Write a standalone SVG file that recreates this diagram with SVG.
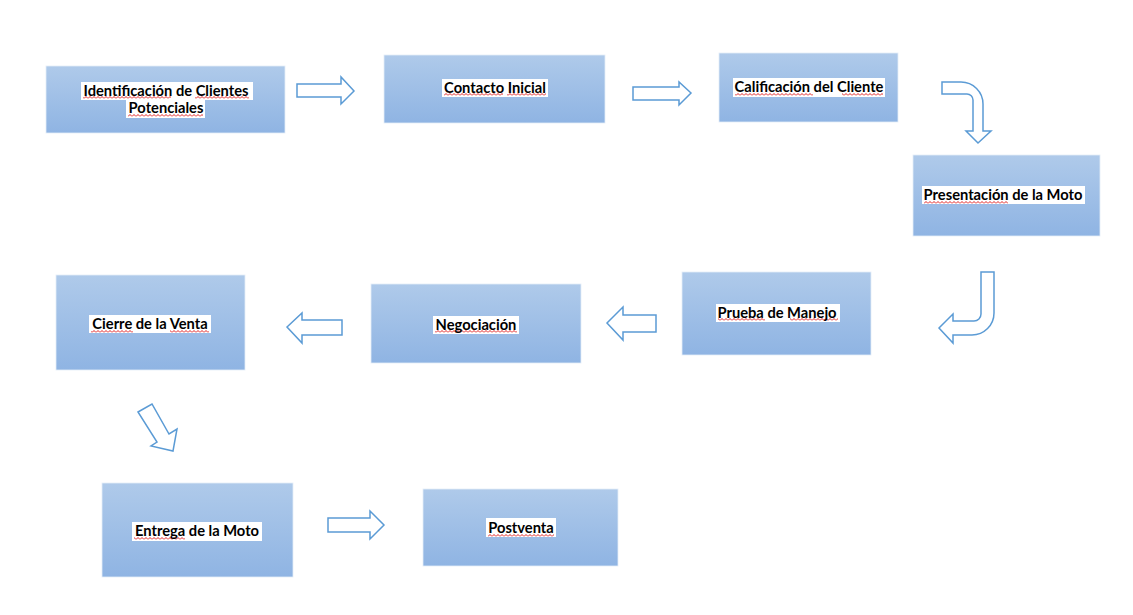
<svg xmlns="http://www.w3.org/2000/svg" width="1133" height="615" viewBox="0 0 1133 615">
  <defs>
    <linearGradient id="boxFill" x1="0" y1="0" x2="0" y2="1">
      <stop offset="0" stop-color="#afcaea"/>
      <stop offset="1" stop-color="#8fb4e3"/>
    </linearGradient>
    <!-- red wavy spell-check underline -->
    <pattern id="wave" width="4" height="3" patternUnits="userSpaceOnUse">
      <path d="M0,2.5 L2,0.5 L4,2.5" fill="none" stroke="#e02020" stroke-width="1"/>
    </pattern>
  </defs>
  <style>
    .box { fill: url(#boxFill); stroke: #e4edf8; stroke-width: 0.8; }
    .hl { fill: #ffffff; }
    .sq { fill: url(#wave); }
    .lbl { font-family: Lato, "Open Sans", "Liberation Sans", sans-serif; font-weight: bold; font-size: 14.7px; fill: #000000; text-anchor: middle; }
    .arrow { fill: #ffffff; stroke: #5b9bd5; stroke-width: 1.5; stroke-linejoin: miter; }
  </style>
  <rect width="1133" height="615" fill="#ffffff"/>

  <g id="n1">
    <rect class="box" x="46" y="66" width="239" height="67"/>
    <rect class="hl" x="81" y="82" width="172" height="18"/>
    <rect class="hl" x="126" y="100" width="79" height="18"/>
    <rect class="sq" x="83" y="96" width="88" height="3"/>
    <rect class="sq" x="195" y="96" width="54" height="3"/>
    <rect class="sq" x="128" y="114" width="75" height="3"/>
    <text class="lbl" x="166" y="96">Identificación de Clientes</text>
    <text class="lbl" x="166" y="113">Potenciales</text>
  </g>

  <g id="n2">
    <rect class="box" x="384" y="55" width="221" height="68"/>
    <rect class="hl" x="442" y="79" width="106" height="18"/>
    <rect class="sq" x="444" y="93" width="59" height="3"/>
    <rect class="sq" x="507" y="93" width="39" height="3"/>
    <text class="lbl" x="495" y="93">Contacto Inicial</text>
  </g>

  <g id="n3">
    <rect class="box" x="719" y="53" width="179" height="69"/>
    <rect class="hl" x="733" y="78" width="152" height="19"/>
    <rect class="sq" x="735" y="93" width="78" height="3"/>
    <rect class="sq" x="842" y="93" width="41" height="3"/>
    <text class="lbl" x="809" y="92">Calificación del Cliente</text>
  </g>

  <g id="n4">
    <rect class="box" x="913" y="155" width="187" height="81"/>
    <rect class="hl" x="922" y="186" width="163" height="18"/>
    <rect class="sq" x="924" y="201" width="84" height="3"/>
    <text class="lbl" x="1003" y="200">Presentación de la Moto</text>
  </g>

  <g id="n5">
    <rect class="box" x="682" y="272" width="189" height="83"/>
    <rect class="hl" x="716" y="304" width="124" height="18"/>
    <rect class="sq" x="718" y="318" width="47" height="3"/>
    <rect class="sq" x="790" y="318" width="48" height="3"/>
    <text class="lbl" x="777" y="318">Prueba de Manejo</text>
  </g>

  <g id="n6">
    <rect class="box" x="371" y="284" width="210" height="79"/>
    <rect class="hl" x="433" y="316" width="86" height="18"/>
    <rect class="sq" x="435" y="330" width="82" height="3"/>
    <text class="lbl" x="476" y="330">Negociación</text>
  </g>

  <g id="n7">
    <rect class="box" x="56" y="275" width="189" height="95"/>
    <rect class="hl" x="89" y="315" width="122" height="18"/>
    <rect class="sq" x="91" y="330" width="42" height="3"/>
    <rect class="sq" x="170" y="330" width="39" height="3"/>
    <text class="lbl" x="150" y="329">Cierre de la Venta</text>
  </g>

  <g id="n8">
    <rect class="box" x="102" y="483" width="191" height="94"/>
    <rect class="hl" x="132" y="522" width="130" height="19"/>
    <rect class="sq" x="134" y="537" width="51" height="3"/>
    <text class="lbl" x="197" y="536">Entrega de la Moto</text>
  </g>

  <g id="n9">
    <rect class="box" x="423" y="489" width="195" height="77"/>
    <rect class="hl" x="486" y="518" width="70" height="19"/>
    <rect class="sq" x="488" y="534" width="66" height="3"/>
    <text class="lbl" x="521" y="533">Postventa</text>
  </g>

  <g id="connectors">
    <!-- straight block arrows -->
    <polygon class="arrow" points="297,84 341,84 341,77 354,91 341,104 341,97 297,97"/>
    <polygon class="arrow" points="633,87 679,87 679,82 691,93 679,105 679,100 633,100"/>
    <polygon class="arrow" points="342,320 302,320 302,313 287,327 302,343 302,335 342,335"/>
    <polygon class="arrow" points="656,315 623,315 623,307 607,323 623,340 623,332 656,332"/>
    <polygon class="arrow" points="328,518 370,518 370,511 384,525 370,539 370,532 328,532"/>
    <!-- diagonal arrow -->
    <polygon class="arrow" points="138,412 152,404 169,434 177,429 173,451 151,446 157,442"/>
    <!-- bent arrow: right then down -->
    <path class="arrow" d="M942,82 L961,82 A22,22 0 0 1 983,104 L983,131 L991,131 L978,143 L966,131 L973,131 L973,100 A6,6 0 0 0 967,94 L942,94 Z"/>
    <!-- bent arrow: down then left -->
    <path class="arrow" d="M994,272 L994,313 A22,22 0 0 1 972,335 L953,335 L953,343 L939,328 L953,314 L953,321 L974,321 A7,7 0 0 0 981,314 L981,272 Z"/>
  </g>
</svg>
